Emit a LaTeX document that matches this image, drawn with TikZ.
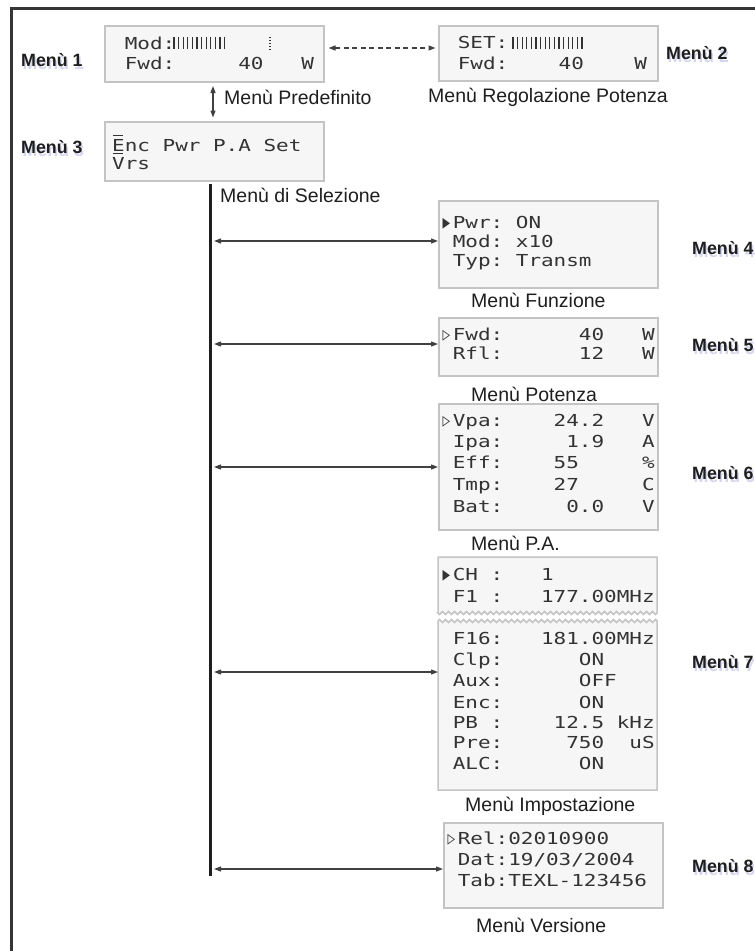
\documentclass[tikz,border=0pt]{standalone}
\usepackage{fontspec}
\usepackage{graphicx}
\setmainfont{Liberation Sans}
\newfontfamily\lcdfont[FakeStretch=1.27]{DejaVu Sans Mono}
\usetikzlibrary{arrows.meta,decorations.pathmorphing}
\definecolor{lcdfill}{HTML}{F6F6F6}
\definecolor{lcdedge}{HTML}{C4C4C4}
\definecolor{lcdtext}{HTML}{333333}
\definecolor{shadowc}{HTML}{D6D6EE}
\definecolor{inkc}{HTML}{1E1E1E}
\newcommand\lcdrow[4]{\node[lcdrow] (#1) at (#2,#3+6) {#4};}
\newcommand\menutag[4]{\node[tagshadow] (#1s) at (#2+1.5,#3+3.5) {#4};\node[tagtext] (#1) at (#2,#3) {#4};}
\newcommand\curs[1]{\setbox0\hbox{0}\makebox[\wd0][c]{\scalebox{0.6}[1.1]{#1}}}
\begin{document}
\begin{tikzpicture}[x=1pt,y=-1pt,
  lcdbox/.style={draw=lcdedge,fill=lcdfill,line width=1.5pt,inner sep=0pt,anchor=north west},
  lcdrow/.style={anchor=base west,inner sep=0pt,text=lcdtext,font=\lcdfont\fontsize{16.5}{18}\selectfont\frenchspacing},
  captext/.style={anchor=west,inner sep=0pt,text=inkc,font=\fontsize{19.5}{22}\selectfont},
  tagtext/.style={anchor=west,inner sep=0pt,text=inkc,font=\fontsize{17.8}{20}\selectfont\bfseries},
  tagshadow/.style={tagtext,text=shadowc},
  arr/.style={draw=inkc!85,line width=1.2pt,{Triangle[length=7pt,width=5pt]}-{Triangle[length=7pt,width=5pt]}},
  barline/.style={draw=lcdtext,line width=1.1pt},
  cursorline/.style={draw=lcdtext,line width=1.2pt}]
\useasboundingbox (0,0) rectangle (755,951);
% frame
\draw[line width=2.5pt,draw=inkc!90,line join=miter] (11.5,951) -- (11.5,8.5) -- (755,8.5);

% boxes
\node[lcdbox,minimum width=219pt,minimum height=56pt] (b1) at (104,25) {};
\node[lcdbox,minimum width=219pt,minimum height=55pt] (b2) at (438,25) {};
\node[lcdbox,minimum width=219pt,minimum height=59pt] (b3) at (104,121) {};
\node[lcdbox,minimum width=219pt,minimum height=87pt] (b4) at (438,200) {};
\node[lcdbox,minimum width=219pt,minimum height=58pt] (b5) at (438,317) {};
\node[lcdbox,minimum width=219pt,minimum height=126pt] (b6) at (438,403) {};
\node[lcdbox,minimum width=219pt,minimum height=85pt] (b8) at (443,822) {};
% box 7 in two torn parts
\coordinate (b7a) at (438,557);
\coordinate (b7b) at (657,790);
\path[draw=lcdedge,fill=lcdfill,line width=1.5pt] (438,613) -- (b7a) -- (657,557) -- (657,613)
  decorate[decoration={zigzag,segment length=6pt,amplitude=1.6pt}]{-- (438,613)} -- cycle;
\path[draw=lcdedge,fill=lcdfill,line width=1.5pt] (438,621)
  decorate[decoration={zigzag,segment length=6pt,amplitude=1.6pt}]{-- (657,621)} -- (b7b) -- (438,790) -- cycle;
\coordinate (b7w) at (438,672);

% LCD texts
\lcdrow{t1a}{112}{43}{~Mod:}
\foreach \i in {0,...,11} \draw[barline] (174+\i*4.6,37) -- ++(0,12);
\draw[lcdtext,line width=1.3pt,dash pattern=on 1.3pt off 1.7pt] (270,37) -- (270,50);
\lcdrow{t1b}{112}{63}{~Fwd:~~~~~40~~~W}
\lcdrow{t2a}{445}{42}{~SET:}
\foreach \i in {0,...,15} \draw[barline] (513+\i*4.6,37) -- ++(0,12);
\lcdrow{t2b}{445}{63}{~Fwd:~~~~40~~~~W}
\lcdrow{t3a}{112}{145}{Enc~Pwr~P.A~Set}
\lcdrow{t3b}{112}{163}{Vrs}
\draw[cursorline] (113,135.5) -- (123,135.5);
\draw[cursorline] (113,153.5) -- (123,153.5);

\lcdrow{t4a}{440}{222}{\curs{▶}Pwr:~ON}
\lcdrow{t4b}{440}{241}{~Mod:~x10}
\lcdrow{t4c}{440}{260}{~Typ:~Transm}

\lcdrow{t5a}{440}{334}{\curs{▷}Fwd:~~~~~~40~~~W}
\lcdrow{t5b}{440}{353}{~Rfl:~~~~~~12~~~W}

\lcdrow{t6a}{440}{420}{\curs{▷}Vpa:~~~~24.2~~~V}
\lcdrow{t6b}{440}{441}{~Ipa:~~~~~1.9~~~A}
\lcdrow{t6c}{440}{462}{~Eff:~~~~55~~~~~\%}
\lcdrow{t6d}{440}{484}{~Tmp:~~~~27~~~~~C}
\lcdrow{t6e}{440}{506}{~Bat:~~~~~0.0~~~V}

\lcdrow{t7a}{440}{574}{\curs{▶}CH~:~~~1}
\lcdrow{t7b}{440}{596}{~F1~:~~~177.00MHz}
\lcdrow{t7c}{440}{638}{~F16:~~~181.00MHz}
\lcdrow{t7d}{440}{659}{~Clp:~~~~~~ON}
\lcdrow{t7e}{440}{680}{~Aux:~~~~~~OFF}
\lcdrow{t7f}{440}{702}{~Enc:~~~~~~ON}
\lcdrow{t7g}{440}{722}{~PB~:~~~~12.5~kHz}
\lcdrow{t7h}{440}{742}{~Pre:~~~~~750~~uS}
\lcdrow{t7i}{440}{763}{~ALC:~~~~~~ON}

\lcdrow{t8a}{445}{838}{\curs{▷}Rel:02010900}
\lcdrow{t8b}{445}{859}{~Dat:19/03/2004}
\lcdrow{t8c}{445}{880}{~Tab:TEXL-123456}

% captions
\node[captext] (c1) at (224,97) {Menù Predefinito};
\node[captext] (c2) at (428,97) {Menù Regolazione Potenza};
\node[captext] (c3) at (220,195) {Menù di Selezione};
\node[captext] (c4) at (471,300) {Menù Funzione};
\node[captext] (c5) at (471,394) {Menù Potenza};
\node[captext] (c6) at (471,543) {Menù P.A.};
\node[captext] (c7) at (465,806) {Menù Impostazione};
\node[captext] (c8) at (476,925) {Menù Versione};

% menu tags
\menutag{m1}{21}{60}{Menù 1}
\menutag{m2}{666}{53}{Menù 2}
\menutag{m3}{21}{147}{Menù 3}
\menutag{m4}{692}{248}{Menù 4}
\menutag{m5}{692}{345}{Menù 5}
\menutag{m6}{692}{473}{Menù 6}
\menutag{m7}{692}{662}{Menù 7}
\menutag{m8}{692}{866}{Menù 8}

% connectors
\coordinate (vx) at (213,0);
\draw[arr] ([yshift=-3.5pt]b1.south -| vx) -- ([yshift=3.5pt]b3.north -| vx);
\coordinate (dy) at (0,48);
\draw[arr,dash pattern=on 5pt off 3.5pt] ([xshift=4pt]b1.east |- dy) -- ([xshift=-2.5pt]b2.west |- dy);

\coordinate (ltop) at (210.5,184);
\coordinate (lbot) at (210.5,876);
\draw[line width=3.8pt,draw=inkc] (ltop) -- (lbot);

\coordinate (a4) at (214,241);
\coordinate (a5) at (214,344);
\coordinate (a6) at (214,467);
\coordinate (a7) at (214,672);
\coordinate (a8) at (214,869);
\draw[arr] (a4) -- (a4 -| b4.west);
\draw[arr] (a5) -- (a5 -| b5.west);
\draw[arr] (a6) -- (a6 -| b6.west);
\draw[arr] (a7) -- (b7w);
\draw[arr] (a8) -- (a8 -| b8.west);
\end{tikzpicture}
\end{document}
